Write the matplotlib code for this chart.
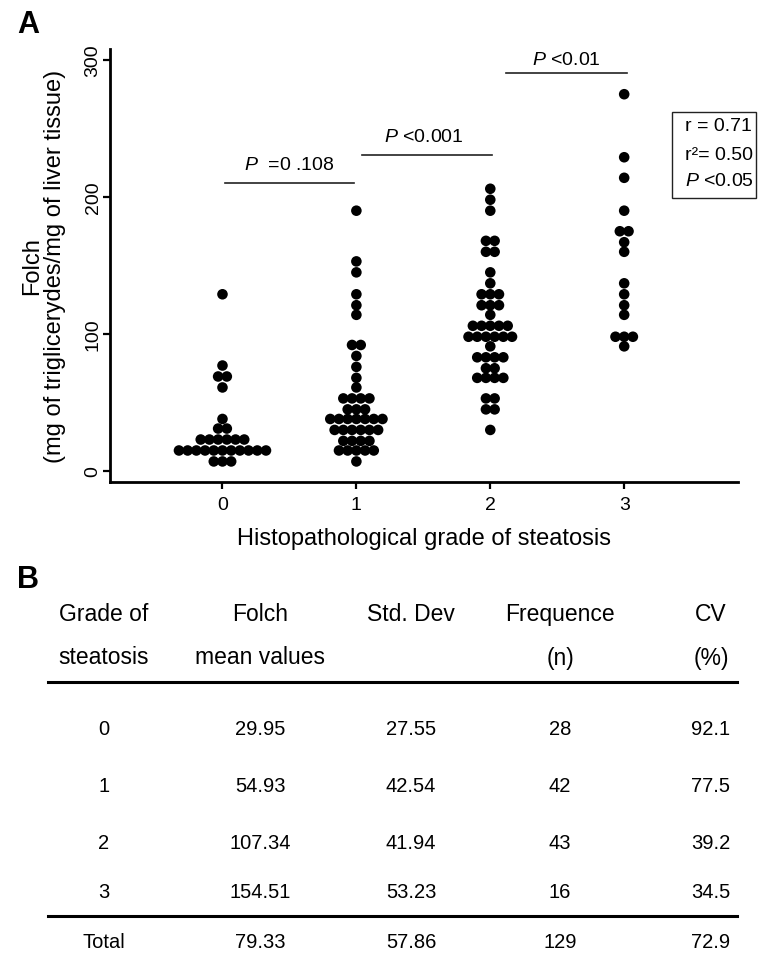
import matplotlib
matplotlib.use('Agg')
import matplotlib.pyplot as plt
from matplotlib.patches import Rectangle
from matplotlib.lines import Line2D
import numpy as np
from collections import Counter

plt.rcParams['font.family'] = ['Liberation Sans', 'DejaVu Sans']
plt.rcParams['mathtext.fontset'] = 'custom'
plt.rcParams['mathtext.rm'] = 'Liberation Sans'
plt.rcParams['mathtext.it'] = 'Liberation Sans:italic'

# valores (Folch por grado de esteatosis)
grado0 = [129, 77, 69, 69, 61, 38, 31, 31,
          23, 23, 23, 23, 23, 23,
          15, 15, 15, 15, 15, 15, 15, 15, 15, 15, 15,
          7, 7, 7]
grado1 = [190, 153, 145, 129, 121, 114, 92, 92, 84, 76, 68, 61,
          53, 53, 53, 53, 45, 45, 45,
          38, 38, 38, 38, 38, 38, 38,
          30, 30, 30, 30, 30, 30,
          22, 22, 22, 22, 15, 15, 15, 15, 15, 7]
grado2 = [206, 198, 190, 168, 168, 160, 160, 145, 137,
          129, 129, 129, 121, 121, 121, 114,
          106, 106, 106, 106, 106, 98, 98, 98, 98, 98, 98,
          91, 83, 83, 83, 83, 75, 75, 68, 68, 68, 68,
          53, 53, 45, 45, 30]
grado3 = [275, 229, 214, 190, 175, 175, 167, 160, 137, 129, 121, 114,
          98, 98, 98, 91]
grupos = [grado0, grado1, grado2, grado3]

# anotaciones de comparacion
comp_x = [(0.02, 0.98), (1.04, 2.01), (2.12, 3.02)]
comp_y = [210, 230.5, 290.5]
comp_txt = [r'$\mathit{P}$  =0 .108', r'$\mathit{P}$ <0.001', r'$\mathit{P}$ <0.01']
comp_txt_x = [0.5, 1.5, 2.57]
comp_txt_y = [223.5, 244.5, 300.7]

# tabla B
encabezado1 = ['Grade of', 'Folch', 'Std. Dev', 'Frequence', 'CV']
encabezado2 = ['steatosis', 'mean values', '', '(n)', '(%)']
grados = ['0', '1', '2', '3']
medias = ['29.95', '54.93', '107.34', '154.51']
desvios = ['27.55', '42.54', '41.94', '53.23']
frecuencias = ['28', '42', '43', '16']
cvs = ['92.1', '77.5', '39.2', '34.5']
total = ['Total', '79.33', '57.86', '129', '72.9']

W, H = 758, 954
def fx(x):
    return x / W
def fy(y):
    return 1 - y / H

fig = plt.figure(figsize=(W / 100, H / 100), dpi=100)
ax = fig.add_axes([fx(110), fy(483), fx(738) - fx(110), fy(50) - fy(483)])

paso = 0.065
for g, vals in enumerate(grupos):
    cnt = Counter(vals)
    xs, ys = [], []
    for v, k in cnt.items():
        off = (np.arange(k) - (k - 1) / 2) * paso
        xs.extend(g + off)
        ys.extend([v] * k)
    ax.scatter(xs, ys, s=58, color='black', edgecolors='none', zorder=3)

ax.set_xlim(-0.84, 3.85)
ax.set_ylim(-8, 308)
ax.set_xticks([0, 1, 2, 3])
ax.set_yticks([0, 100, 200, 300])
ax.spines['top'].set_visible(False)
ax.spines['right'].set_visible(False)
ax.spines['left'].set_linewidth(2)
ax.spines['bottom'].set_linewidth(2)
ax.tick_params(axis='both', width=1.6, length=5, labelsize=14)
ax.tick_params(axis='x', pad=5)
ax.tick_params(axis='y', pad=1, labelrotation=90)
for lab in ax.get_yticklabels():
    lab.set_va('center')

ax.set_xlabel('Histopathological grade of steatosis', fontsize=17, labelpad=10)
fig.text(fx(44), fy(266), 'Folch\n(mg of triglicerydes/mg of liver tissue)',
         rotation=90, ha='center', va='center', fontsize=17, linespacing=1.05)

for (x0, x1), y, t, tx, ty in zip(comp_x, comp_y, comp_txt, comp_txt_x, comp_txt_y):
    ax.plot([x0, x1], [y, y], color='#222222', lw=1.2, clip_on=False)
    ax.text(tx, ty, t, ha='center', va='center', fontsize=14, clip_on=False)

# recuadro de correlacion
fig.patches.append(Rectangle((fx(672), fy(199)), fx(756) - fx(672), fy(113) - fy(199),
                             transform=fig.transFigure, fill=False, lw=1.0, ec='#222222'))
for t, y in zip(['r = 0.71', 'r\u00b2= 0.50', r'$\mathit{P}$ <0.05'], [127, 155, 182]):
    fig.text(fx(685), fy(y), t, ha='left', va='center', fontsize=14)

fig.text(fx(28), fy(25), 'A', fontsize=22, fontweight='bold', ha='center', va='center')
fig.text(fx(28), fy(580), 'B', fontsize=22, fontweight='bold', ha='center', va='center')

# tabla
col_x = [104, 260, 411, 560, 711]
for cx, t1, t2 in zip(col_x, encabezado1, encabezado2):
    fig.text(fx(cx), fy(615), t1, ha='center', va='center', fontsize=16.5)
    fig.text(fx(cx), fy(658), t2, ha='center', va='center', fontsize=16.5)

filas_y = [730, 787, 844, 893]
for i, y in enumerate(filas_y):
    fila = [grados[i], medias[i], desvios[i], frecuencias[i], cvs[i]]
    for cx, t in zip(col_x, fila):
        fig.text(fx(cx), fy(y), t, ha='center', va='center', fontsize=14.5)
for cx, t in zip(col_x, total):
    fig.text(fx(cx), fy(943), t, ha='center', va='center', fontsize=14.5)

for y in [683, 917]:
    fig.add_artist(Line2D([fx(48), fx(737)], [fy(y), fy(y)], transform=fig.transFigure,
                          color='black', lw=2.2))

fig.savefig('out.png', dpi=100)
